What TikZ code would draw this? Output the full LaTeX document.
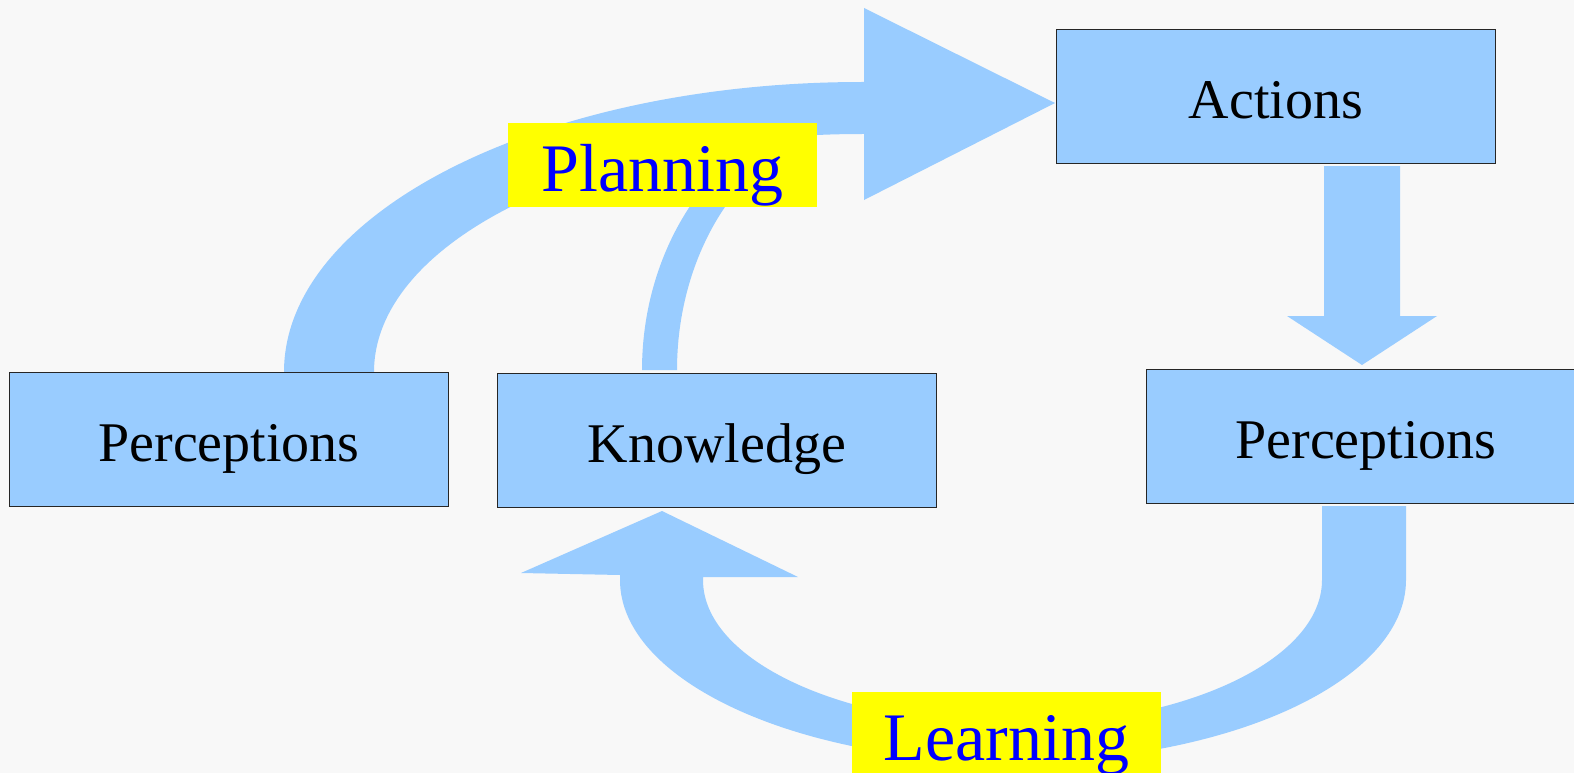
\documentclass[tikz,border=0pt]{standalone}
\usepackage{fontspec}
\setmainfont{Liberation Serif}
\definecolor{arrowblue}{HTML}{99CCFF}
\definecolor{bgwhite}{HTML}{F8F8F8}
\definecolor{labelyellow}{HTML}{FFFF00}
\definecolor{labelblue}{HTML}{0000FF}
\begin{document}
\begin{tikzpicture}[x=1pt,y=-1pt,
  blockarrow/.style={fill=arrowblue,draw=none},
  box/.style={draw=black!85,line width=1.1pt,fill=arrowblue,minimum width=439pt,minimum height=134pt,
    inner sep=0pt,text height=49pt,text depth=6pt,font=\fontsize{56}{60}\selectfont,anchor=north west},
  tag/.style={fill=labelyellow,text=labelblue,minimum width=309pt,minimum height=84pt,inner sep=0pt,
    text height=58pt,text depth=6pt,font=\fontsize{68}{72}\selectfont,anchor=north west}]
\useasboundingbox (0,0) rectangle (1574,773);
\clip (0,0) rectangle (1574,773);
\fill[bgwhite] (0,0) rectangle (1574,773);

% Planning arrow
\fill[blockarrow] (284,372) .. controls (284,211.8) and (542.8,82) .. (862,82) -- (864,82) -- (864,8)
  -- (1055,103) -- (864,200) -- (864,134) -- (862,134)
  .. controls (592.5,134) and (374,240.6) .. (374,372) -- cycle;
% branch from Knowledge
\fill[blockarrow] plot[domain=0:42,samples=40] ({872-230*cos(\x)},{370-268*sin(\x)})
  -- plot[domain=45.5:0,samples=40] ({877-200*cos(\x)},{370-251*sin(\x)}) -- cycle;

% Actions -> Perceptions
\fill[blockarrow] (1324,166) -- (1400,166) -- (1400,316) -- (1437,316) -- (1362,365) -- (1287,316) -- (1324,316) -- cycle;

% Learning arrow
\fill[blockarrow] (1322,506) -- (1322,580) .. controls (1322,660.1) and (1183.4,725) .. (1012.5,725)
  .. controls (841.6,725) and (703,660.1) .. (703,580) -- (703,577) -- (798,577) -- (662,511)
  -- (521,573) -- (620,575) -- (620,580)
  .. controls (620,680.5) and (795.9,762) .. (1013,762)
  .. controls (1230.1,762) and (1406,680.5) .. (1406,580) -- (1406,506) -- cycle;

% boxes
\node[box] (perc1) at (9,372) {Perceptions};
\node[box] (know) at (497,373) {Knowledge};
\node[box] (act) at (1056,29) {Actions};
\node[box] (perc2) at (1146,369) {Perceptions};

% labels
\node[tag] (planning) at (508,123) {Planning};
\node[tag] (learning) at (852,692) {Learning};
\end{tikzpicture}
\end{document}
